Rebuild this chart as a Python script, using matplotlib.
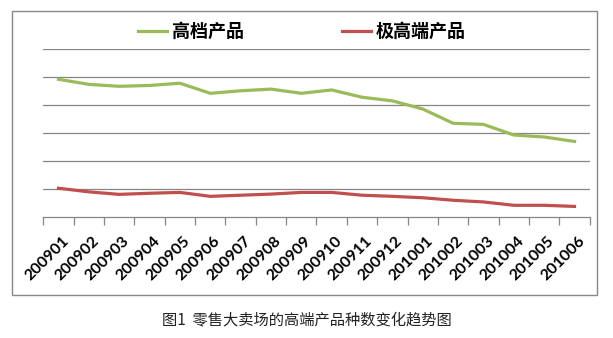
import numpy as np
import matplotlib
matplotlib.use("Agg")
import matplotlib.pyplot as plt
import matplotlib.transforms as mtransforms
from matplotlib.patches import Rectangle
from matplotlib.ticker import FixedLocator, NullFormatter

plt.rcParams['font.family'] = ['Noto Sans CJK SC', 'DejaVu Sans']

months = ['200901', '200902', '200903', '200904', '200905', '200906',
          '200907', '200908', '200909', '200910', '200911', '200912',
          '201001', '201002', '201003', '201004', '201005', '201006']
high_end = [4.93, 4.75, 4.68, 4.71, 4.79, 4.43, 4.52, 4.58, 4.43,
            4.55, 4.29, 4.16, 3.87, 3.36, 3.32, 2.94, 2.87, 2.71]
top_end = [1.04, 0.91, 0.82, 0.86, 0.89, 0.75, 0.79, 0.83, 0.89,
           0.89, 0.79, 0.75, 0.70, 0.61, 0.55, 0.43, 0.43, 0.39]
series_names = ['高档产品', '极高端产品']

fig = plt.figure(figsize=(6.13, 3.38), dpi=100)
ax = fig.add_axes([0.0706, 0.357, 0.8914, 0.497])

x = np.arange(len(months))
ax.plot(x, high_end, color='#9BBB59', lw=2.3, label=series_names[0])
ax.plot(x, top_end, color='#C0504D', lw=2.3, label=series_names[1])

ax.set_xlim(-0.5, len(months) - 0.5)
ax.set_ylim(0, 6)
ax.set_yticks(np.arange(1, 7))
ax.yaxis.grid(True, color='#868686', lw=0.9)
ax.set_axisbelow(True)
ax.tick_params(axis='y', left=False, labelleft=False)
for s in ['left', 'right', 'top']:
    ax.spines[s].set_visible(False)
ax.spines['bottom'].set_color('#868686')
ax.spines['bottom'].set_linewidth(0.9)

ax.set_xticks(x)
ax.set_xticklabels(months, rotation=45, ha='right', va='top',
                   rotation_mode='anchor', fontfamily='Lato',
                   fontweight='bold', fontsize=11.5)
ax.tick_params(axis='x', which='major', length=0, pad=12)
# nudge the rotated labels a little to the right, like the original
shift = mtransforms.ScaledTranslation(3 / 100, 0, fig.dpi_scale_trans)
for lab in ax.get_xticklabels():
    lab.set_transform(lab.get_transform() + shift)
ax.xaxis.set_minor_locator(FixedLocator(np.arange(-0.5, len(months), 1.0)))
ax.xaxis.set_minor_formatter(NullFormatter())
ax.tick_params(axis='x', which='minor', length=6, color='#868686', width=0.9)

fig.legend(loc='center', bbox_to_anchor=(302 / 613, 1 - 31.7 / 338),
           ncol=2, frameon=False, handlelength=1.6,
           handletextpad=0.3, columnspacing=5.4,
           prop={'family': ['Noto Sans CJK SC'], 'weight': 'bold', 'size': 13})

fig.add_artist(Rectangle((12 / 613, 1 - 295 / 338), 585 / 613, 284 / 338,
                         transform=fig.transFigure, fill=False,
                         edgecolor='#888888', lw=1))

fig.text(307 / 613, 1 - 320 / 338, '图1  零售大卖场的高端产品种数变化趋势图',
         ha='center', va='center', fontsize=11, color='#222222')

fig.savefig('out.png', dpi=100)
